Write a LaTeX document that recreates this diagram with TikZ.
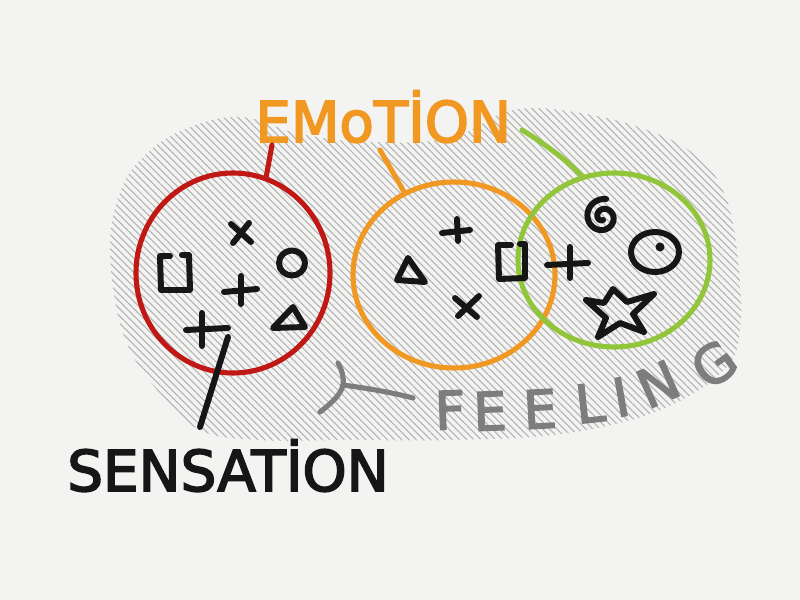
\documentclass[tikz,border=0pt]{standalone}
\usepackage{fontspec}
\newfontfamily\handfont[FakeBold=3]{DejaVu Sans}
\usetikzlibrary{patterns.meta,shapes.geometric}

\definecolor{paper}{RGB}{243,243,242}
\definecolor{redink}{RGB}{192,24,20}
\definecolor{orangeink}{RGB}{240,152,34}
\definecolor{greenink}{RGB}{146,198,58}
\definecolor{grayink}{RGB}{125,125,125}
\definecolor{inkblack}{RGB}{22,22,22}
\colorlet{hatchcol}{black!30}

\tikzset{
  ring/.style={ellipse, draw=#1, line width=2.9pt, inner sep=0},
  inkline/.style={draw=inkblack, line width=3.4pt, line cap=round, line join=round},
  tick/.style={draw=#1, line width=2.9pt, line cap=round},
  hand word/.style={font=\handfont\fontsize{32}{36}\selectfont, inner sep=0},
  feel letter/.style={font=\handfont\fontsize{30}{34}\selectfont, text=grayink, inner sep=0},
}

\begin{document}
\begin{tikzpicture}[x=0.2mm, y=-0.2mm]
    % page: pixel grid, y runs down
    \useasboundingbox (0,0) rectangle (800,600);
    \fill[paper] (0,0) rectangle (800,600);

    % --- hatched feeling blob ---
    \fill[pattern={Lines[angle=-45, distance=2.9pt, line width=0.6pt]}, pattern color=hatchcol]
      plot[smooth cycle, tension=0.65] coordinates {
        (240,117) (300,134) (370,142) (450,138) (513,110) (580,113) (647,130)
        (695,155) (725,195) (738,260) (740,330) (722,372) (655,412) (560,434)
        (450,440) (350,440) (260,440) (200,430) (157,390) (123,333) (110,250)
        (120,193) (143,157) (183,130)};

    % --- the three rings ---
    \node[ring=redink, minimum width=38.8mm, minimum height=40mm] (ring red) at (233,273) {};
    \node[ring=orangeink, minimum width=40.4mm, minimum height=37.2mm] (ring orange) at (454,275) {};
    \node[ring=greenink, minimum width=38.4mm, minimum height=34.8mm] (ring green) at (614,260) {};

    % --- labels ---
    \node[hand word, text=orangeink, anchor=base west] (emotion) at (255,142) {EMoTİON};
    \node[hand word, text=inkblack, anchor=base west] (sensation) at (67,491) {SENSATİON};
    \foreach \ch/\x/\y/\r [count=\i] in {F/450/410/2, E/490/411/2, E/540/409/3,
        L/590/403/6, I/621/397/10, N/658/384/24, G/714/364/36} {
      \node[feel letter, rotate=\r] (feel\i) at (\x,\y) {\ch};
    }

    % --- ticks from EMOTION to the rings ---
    \coordinate (emo red) at (272,145);
    \coordinate (emo orange) at (380,150);
    \coordinate (emo green) at (522,130);
    \draw[tick=redink] (emo red) -- (ring red.71);
    \draw[tick=orangeink] (emo orange) -- (ring orange.121);
    \draw[tick=greenink] (emo green) .. controls (548,146) and (566,160) .. (ring green.111);

    % --- SENSATION pointer ---
    \coordinate (sns top) at (228,337);
    \coordinate (sns foot) at (200,427);
    \draw[inkline] (sns foot) -- (sns top);

    % --- FEELING bracket ---
    \coordinate (brace low) at (320,412);
    \coordinate (brace mid) at (343,385);
    \coordinate (brace high) at (338,363);
    \coordinate (brace arm) at (413,398);
    \draw[draw=grayink, line width=2.9pt, line cap=round]
      (brace low) .. controls (333,402) and (341,394) .. (brace mid)
      .. controls (344,377) and (342,370) .. (brace high);
    \draw[draw=grayink, line width=2.9pt, line cap=round]
      (brace mid) .. controls (365,388) and (390,392) .. (brace arm);

    % --- red ring contents ---
    \draw[inkline] (231,224) -- (251,242) (249,223) -- (233,243);
    \draw[inkline] (170,256) -- (160,256) -- (161,290) -- (190,290) -- (189,255) -- (182,255);
    \draw[inkline] (224,292) -- (257,289) (241,276) -- (241,304);
    \draw[inkline] (292,263) ellipse (13 and 12.5);
    \draw[inkline] (273,328) -- (305,327) -- (293,307) -- cycle;
    \draw[inkline] (186,330) -- (228,328) (202,313) -- (202,346);

    % --- orange ring contents ---
    \draw[inkline] (442,233) -- (470,230) (457,219) -- (458,241);
    \draw[inkline] (397,280) -- (425,282) -- (408,258) -- cycle;
    \draw[inkline] (511,245) -- (498,245) -- (499,279) -- (525,278) -- (525,244) -- (520,244);
    \draw[inkline] (455,298) -- (477,317) (479,296) -- (458,316);

    % --- green ring contents ---
    \draw[inkline] (547,265) -- (588,263) (570,247) -- (570,278);
    \draw[inkline] plot[domain=90:640, samples=60, smooth, variable=\t]
      ({603+(3+(\t-90)/36)*cos(\t)}, {217+(3+(\t-90)/36)*sin(\t)});
    \draw[inkline] (655,252) ellipse (24 and 20);
    \fill[inkblack] (660,247) circle (4.5);
    \draw[inkline] (613,289) -- (627,302) -- (654,294) -- (633,314) -- (644,332)
      -- (620,323) -- (598,337) -- (606,318) -- (586,300) -- (604,303) -- cycle;
\end{tikzpicture}
\end{document}
